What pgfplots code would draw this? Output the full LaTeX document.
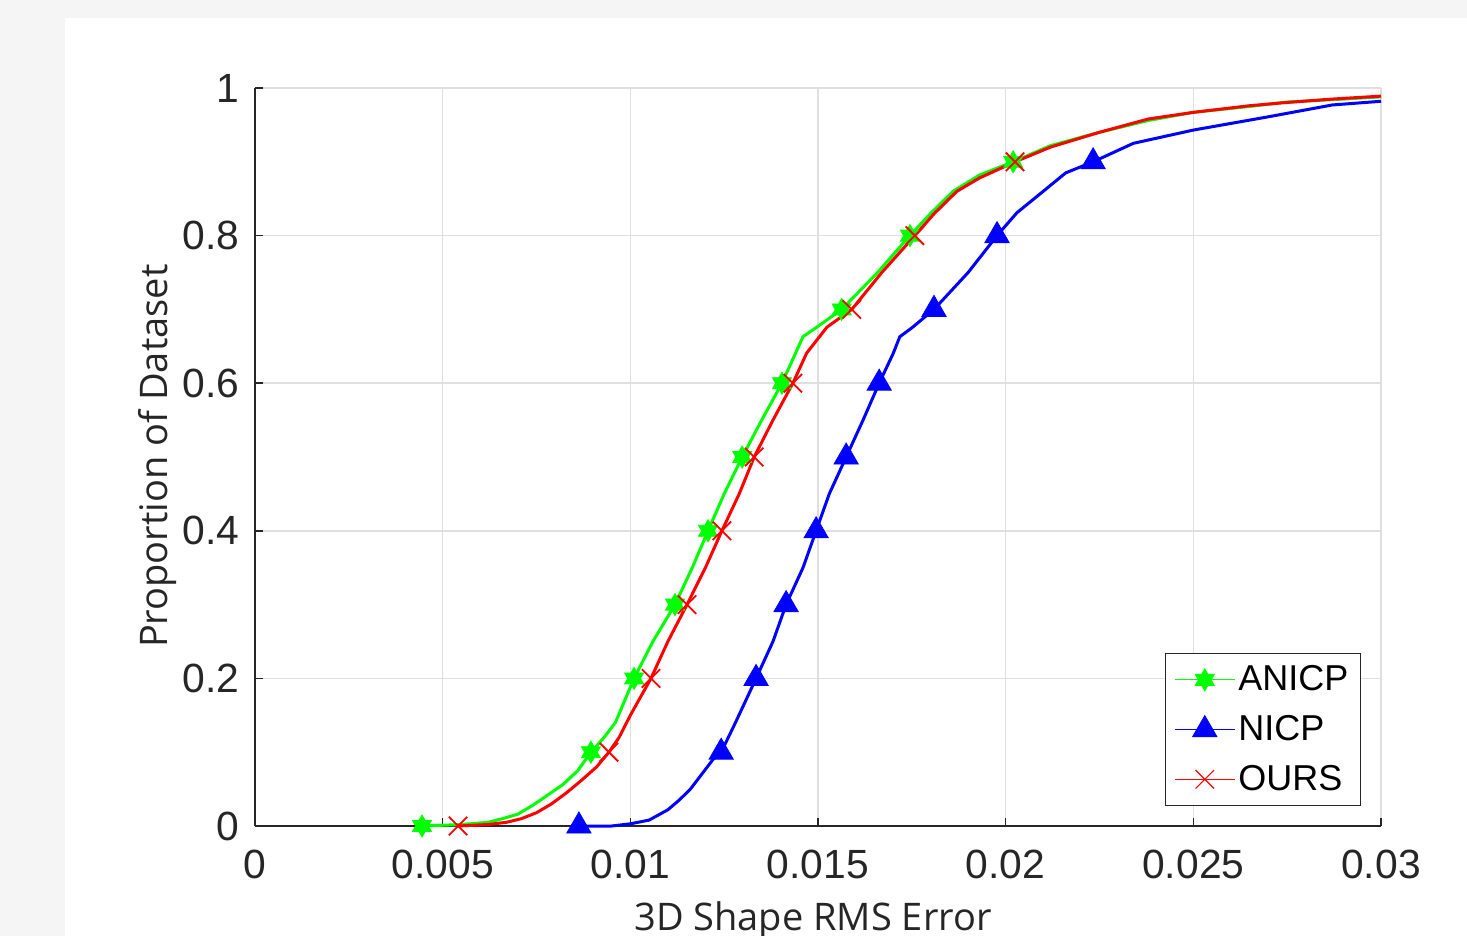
\documentclass[border=0pt]{standalone}
\usepackage{fontspec}
\setmainfont{Liberation Sans}
\newfontfamily\labelfont{Open Sans}
\usepackage{pgfplots}
\pgfplotsset{compat=1.18}
\definecolor{axgray}{HTML}{262626}
\definecolor{bggray}{HTML}{F5F5F5}
\definecolor{gridgray}{HTML}{DFDFDF}

% MATLAB-style filled hexagram
\pgfdeclareplotmark{hexagram}{%
  \pgfpathmoveto{\pgfpointpolar{90}{\pgfplotmarksize}}%
  \pgfpathlineto{\pgfpointpolar{120}{0.57735\pgfplotmarksize}}%
  \pgfpathlineto{\pgfpointpolar{150}{\pgfplotmarksize}}%
  \pgfpathlineto{\pgfpointpolar{180}{0.57735\pgfplotmarksize}}%
  \pgfpathlineto{\pgfpointpolar{210}{\pgfplotmarksize}}%
  \pgfpathlineto{\pgfpointpolar{240}{0.57735\pgfplotmarksize}}%
  \pgfpathlineto{\pgfpointpolar{270}{\pgfplotmarksize}}%
  \pgfpathlineto{\pgfpointpolar{300}{0.57735\pgfplotmarksize}}%
  \pgfpathlineto{\pgfpointpolar{330}{\pgfplotmarksize}}%
  \pgfpathlineto{\pgfpointpolar{0}{0.57735\pgfplotmarksize}}%
  \pgfpathlineto{\pgfpointpolar{30}{\pgfplotmarksize}}%
  \pgfpathlineto{\pgfpointpolar{60}{0.57735\pgfplotmarksize}}%
  \pgfpathclose
  \pgfusepathqfillstroke
}

\begin{document}
\begin{tikzpicture}
\fill[bggray] (0,0) rectangle (733.5pt,-468pt);
\fill[white] (32.5pt,-9pt) rectangle (733.5pt,-468pt);
\useasboundingbox (0,0) rectangle (733.5pt,-468pt);
\begin{axis}[
    at={(127.5pt,-413pt)}, anchor=south west,
    scale only axis, width=563pt, height=369pt,
    xmin=0, xmax=0.03, ymin=0, ymax=1,
    clip=false,
    axis lines*=left,
    axis line style={-, axgray, line width=0.8pt},
    xtick={0,0.005,0.01,0.015,0.02,0.025,0.03},
    xticklabels={0,0.005,0.01,0.015,0.02,0.025,0.03},
    ytick={0,0.2,0.4,0.6,0.8,1},
    yticklabels={0,0.2,0.4,0.6,0.8,1},
    scaled x ticks=false,
    tick align=inside,
    major tick length=4pt,
    tick style={axgray, line width=0.8pt},
    grid=major,
    major grid style={gridgray, line width=0.8pt},
    xticklabel style={font=\fontsize{20.4}{24}\selectfont, text=axgray, anchor=north, inner sep=0pt, yshift=-12pt},
    yticklabel style={font=\fontsize{20.4}{24}\selectfont, text=axgray, anchor=east, inner sep=0pt, xshift=-7.5pt},
    xlabel={3D Shape RMS Error},
    xlabel style={at={(axis description cs:0.4956,-0.1016)}, anchor=north, inner sep=0pt, font=\labelfont\fontsize{19}{22}\selectfont, text=axgray},
    ylabel={Proportion of Dataset},
    ylabel style={at={(axis description cs:-0.0693,0.501)}, anchor=south, inner sep=0pt, font=\labelfont\fontsize{19}{22}\selectfont, text=axgray},
    legend image code/.code={\draw[mark repeat=2,mark phase=2,#1] plot coordinates {(0pt,0pt)(15pt,0pt)(30pt,0pt)};},
    legend cell align=left,
    legend style={at={(axis description cs:0.98224,0.0271)}, anchor=south east,
        draw=axgray, line width=0.6pt, fill=white,
        inner xsep=4.5pt, inner ysep=4.5pt, row sep=7.8pt, column sep=0pt,
        nodes={inner sep=1.5pt},
        font=\fontsize{18}{20}\selectfont},
]
% ANICP
\addplot[green, line width=1.5pt, forget plot] coordinates {
(0.00445,0) (0.0055,0.002) (0.0062,0.005) (0.0066,0.01) (0.0070,0.016) (0.0074,0.028)
(0.0078,0.042) (0.0082,0.056) (0.0086,0.075) (0.00895,0.1) (0.0093,0.12) (0.0096,0.14)
(0.0101,0.2) (0.0106,0.25) (0.01119,0.3) (0.01165,0.35) (0.01207,0.4) (0.0125,0.45)
(0.01298,0.5) (0.0135,0.55) (0.01404,0.6) (0.0146,0.663) (0.01497,0.676) (0.01563,0.7)
(0.01657,0.749) (0.01745,0.8) (0.0180,0.83) (0.0186,0.86) (0.0193,0.882) (0.0202,0.9)
(0.0212,0.922) (0.0225,0.94) (0.0238,0.956) (0.025,0.967) (0.0265,0.975) (0.0275,0.981)
(0.029,0.985) (0.03,0.988)
};
\addplot[only marks, green, mark=hexagram, mark size=5.5pt, mark options={fill=green, line width=0.4pt}, forget plot] coordinates {
(0.00445,0) (0.00895,0.1) (0.0101,0.2) (0.01119,0.3) (0.01207,0.4)
(0.01298,0.5) (0.01404,0.6) (0.01563,0.7) (0.01745,0.8) (0.0202,0.9)
};
% NICP
\addplot[blue, line width=1.5pt, forget plot] coordinates {
(0.00863,0) (0.0095,0) (0.0100,0.003) (0.0105,0.008) (0.0110,0.022) (0.0113,0.035)
(0.0116,0.05) (0.0119,0.07) (0.0122,0.09) (0.01242,0.1) (0.0128,0.14) (0.01335,0.2)
(0.0138,0.25) (0.01415,0.3) (0.0146,0.35) (0.01495,0.4) (0.0153,0.45) (0.01575,0.5)
(0.0162,0.55) (0.01663,0.6) (0.0170,0.64) (0.01718,0.663) (0.0175,0.675) (0.01809,0.7)
(0.0190,0.75) (0.01977,0.8) (0.0203,0.831) (0.0210,0.86) (0.0216,0.885) (0.02233,0.9)
(0.0234,0.925) (0.025,0.943) (0.027,0.961) (0.0287,0.977) (0.03,0.982)
};
\addplot[only marks, blue, mark=triangle*, mark size=7pt, mark options={fill=blue, line width=0.4pt}, forget plot] coordinates {
(0.00863,0) (0.01242,0.1) (0.01335,0.2) (0.01415,0.3) (0.01495,0.4)
(0.01575,0.5) (0.01663,0.6) (0.01809,0.7) (0.01977,0.8) (0.02233,0.9)
};
% OURS
\addplot[red, line width=1.5pt, forget plot] coordinates {
(0.00541,0) (0.0062,0.002) (0.0067,0.005) (0.0071,0.01) (0.0075,0.018) (0.0079,0.03)
(0.0083,0.045) (0.0087,0.062) (0.0091,0.08) (0.00943,0.1) (0.0097,0.12) (0.0100,0.15)
(0.01055,0.2) (0.0110,0.25) (0.01151,0.3) (0.0120,0.35) (0.01244,0.4) (0.0129,0.45)
(0.0133,0.5) (0.0138,0.55) (0.01433,0.6) (0.0147,0.641) (0.01524,0.676) (0.0159,0.7)
(0.0167,0.75) (0.01758,0.8) (0.0181,0.83) (0.0187,0.86) (0.0193,0.878) (0.02025,0.9)
(0.0212,0.92) (0.0225,0.94) (0.0238,0.958) (0.025,0.967) (0.0265,0.976) (0.0274,0.98)
(0.0287,0.985) (0.03,0.989)
};
\addplot[only marks, red, mark=x, mark size=6.5pt, mark options={line width=0.9pt}, forget plot] coordinates {
(0.00541,0) (0.00943,0.1) (0.01055,0.2) (0.01151,0.3) (0.01244,0.4)
(0.0133,0.5) (0.01433,0.6) (0.0159,0.7) (0.01758,0.8) (0.02025,0.9)
};
\addlegendimage{green, line width=0.6pt, mark=hexagram, mark size=5.5pt, mark options={fill=green, line width=0.4pt}}
\addlegendentry{ANICP}
\addlegendimage{blue, line width=0.6pt, mark=triangle*, mark size=7pt, mark options={fill=blue, line width=0.4pt}}
\addlegendentry{NICP}
\addlegendimage{red, line width=0.6pt, mark=x, mark size=6.5pt, mark options={line width=0.6pt}}
\addlegendentry{OURS}
\end{axis}
\end{tikzpicture}
\end{document}
